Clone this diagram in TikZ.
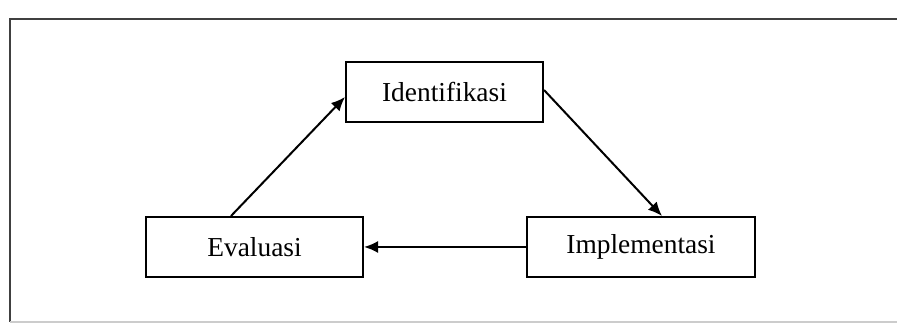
\documentclass[tikz,border=0pt]{standalone}
\usepackage{fontspec}
\setmainfont{Liberation Serif}
\usetikzlibrary{arrows.meta}

\tikzset{
  stagebox/.style={draw,line width=1pt,minimum height=30pt,inner sep=0pt},
  flow/.style={-{Latex[length=7pt,width=6pt]},line width=1pt}
}

\begin{document}
\begin{tikzpicture}[x=0.5pt,y=-0.5pt,font=\fontsize{13.7}{16}\selectfont]
\path[use as bounding box] (0,0) rectangle (897,324);
% outer frame (right side runs off the page)
\draw[black!75,line width=1pt] (10,322) -- (10,19) -- (897,19);
\draw[black!20,line width=0.6pt] (10,322) -- (897,322);
% stages
\node[stagebox,minimum width=98.5pt] (ident) at (444.5,92) {Identifikasi};
\node[stagebox,minimum width=108.5pt] (eval) at (254.5,247) {Evaluasi};
\node[stagebox,minimum width=114pt] (impl) at (641,247) {Implementasi};
% cycle
\draw[flow] ([xshift=-11.75pt]eval.north) -- ([yshift=-2.5pt]ident.west);
\draw[flow] ([yshift=1pt]ident.east) -- ([xshift=10.5pt]impl.north);
\draw[flow] (impl.west) -- (eval.east);
\end{tikzpicture}
\end{document}
